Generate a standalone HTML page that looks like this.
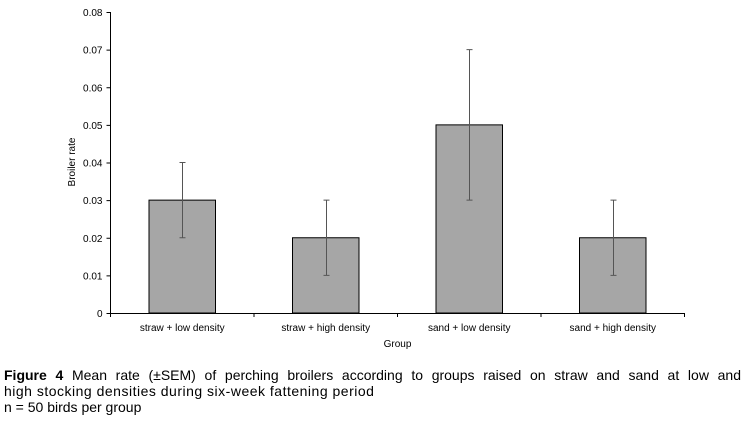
<!DOCTYPE html>
<html><head><meta charset="utf-8"><style>
body{margin:0;background:#fff;width:745px;height:422px;overflow:hidden;font-family:"Liberation Sans",Arial,sans-serif;}
#cap{position:absolute;left:4px;top:367px;width:737px;font-size:14px;line-height:16px;color:#000;}
#cap .l1{display:block;text-align:justify;text-align-last:justify;white-space:nowrap;}
#cap .l2{display:block;letter-spacing:0.5px;white-space:nowrap;}
</style></head><body>
<svg id="chart" width="745" height="365" style="position:absolute;left:0;top:0" font-family="Liberation Sans, Arial, sans-serif"></svg>
<div id="cap"><span class="l1"><b>Figure 4</b> Mean rate (±SEM) of perching broilers according to groups raised on straw and sand at low and</span><span class="l2">high stocking densities during six-week fattening period</span>n = 50 birds per group</div>
<script>
const categories=["straw + low density","straw + high density","sand + low density","sand + high density"];
const values=[0.03,0.02,0.05,0.02];
const errors=[0.01,0.01,0.02,0.01];
const yTicks=[0,0.01,0.02,0.03,0.04,0.05,0.06,0.07,0.08];
const yLabels=["0","0.01","0.02","0.03","0.04","0.05","0.06","0.07","0.08"];
const NS="http://www.w3.org/2000/svg";
const svg=document.getElementById('chart');
const x0=110.5,x1=684.5,yb=313,yt=12,ymax=0.08;
const cw=(x1-x0)/categories.length;
const y=v=>yb-(v/ymax)*(yb-yt);
const xc=i=>x0+cw*(i+0.5);
function mk(t,a){const e=document.createElementNS(NS,t);for(const k in a)e.setAttribute(k,a[k]);svg.appendChild(e);return e;}
let ax=mk('line',{x1:x0,y1:yt,x2:x0,y2:yb,stroke:'#000','stroke-width':1});


ax=mk('line',{x1:x0,y1:yb+.5,x2:x1,y2:yb+.5,stroke:'#000','stroke-width':1});


yTicks.forEach((v,i)=>{
 const t=mk('line',{x1:x0-4,y1:y(v)+.5,x2:x0,y2:y(v)+.5,stroke:'#000'});
 
 
 const l=mk('text',{x:x0-8,y:y(v)+4,'text-anchor':'end','font-size':10});
 l.textContent=yLabels[i];
 
 
});
for(let i=0;i<=categories.length;i++){
 const t=mk('line',{x1:x0+cw*i,y1:yb,x2:x0+cw*i,y2:yb+4,stroke:'#000'});
 
 
}
const bw=66.5;
categories.forEach((c,i)=>{
 const r=mk('rect',{x:xc(i)-bw/2,y:y(values[i]),width:bw,height:yb-y(values[i]),fill:'#a6a6a6',stroke:'#000','stroke-width':1});
 
 
 const hi=y(values[i]+errors[i]),lo=y(values[i]-errors[i]),cx=Math.round(xc(i))+.5;
 const e=mk('path',{d:`M${cx},${hi}V${lo}M${cx-3},${hi}H${cx+3}M${cx-3},${lo}H${cx+3}`,stroke:'#555',fill:'none'});
 
 
 const l=mk('text',{x:xc(i),y:331,'text-anchor':'middle','font-size':10});
 l.textContent=c;
 
 
});
let t=mk('text',{x:(x0+x1)/2,y:347,'text-anchor':'middle','font-size':10});
t.textContent='Group';


t=mk('text',{x:0,y:0,'text-anchor':'middle','font-size':10,transform:'translate(75,162) rotate(-90)'});
t.textContent='Broiler rate';


</script>
</body></html>
